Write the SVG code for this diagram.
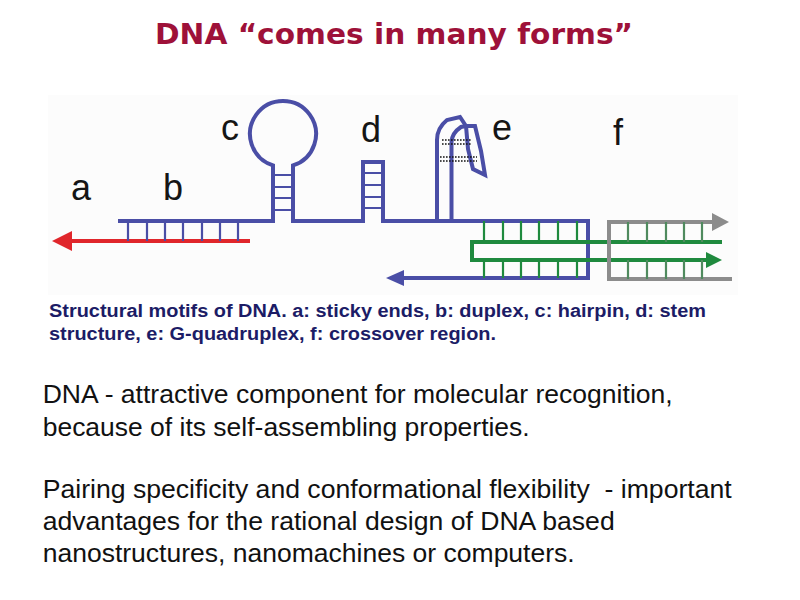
<svg xmlns="http://www.w3.org/2000/svg" width="800" height="600" viewBox="0 0 800 600">
<style>
.title{font-family:"DejaVu Sans","Liberation Sans",sans-serif;font-weight:bold;font-size:29px;fill:#9e1139}
.lbl{font-family:"Liberation Sans",Arial,sans-serif;font-size:36px;fill:#151515}
.cap{font-family:"Liberation Sans",Arial,sans-serif;font-weight:bold;font-size:18px;fill:#1c1c66}
.body{font-family:"Liberation Sans",Arial,sans-serif;font-size:25px;fill:#111}
.strand{fill:none;stroke-width:4;stroke-linejoin:miter;stroke-linecap:butt}
.blue{stroke:#4a4ea6}
.red{stroke:#e0262b}
.green{stroke:#1f8a3e}
.gray{stroke:#8c8c8c}
.rung{stroke-width:2.2;fill:none}
.dots{stroke:#111;stroke-width:1.6;stroke-dasharray:1.6 1.4;fill:none}
</style>
<defs>
<marker id="ah-red" markerUnits="userSpaceOnUse" markerWidth="22" markerHeight="22" refX="0" refY="10" orient="auto" viewBox="0 0 22 20"><path d="M0,0 L20,10 L0,20 z" fill="#e0262b"/></marker>
<marker id="ah-blue" markerUnits="userSpaceOnUse" markerWidth="20" markerHeight="18" refX="0" refY="8" orient="auto" viewBox="0 0 20 16"><path d="M0,0 L18,8 L0,16 z" fill="#4a4ea6"/></marker>
<marker id="ah-green" markerUnits="userSpaceOnUse" markerWidth="18" markerHeight="18" refX="0" refY="8" orient="auto" viewBox="0 0 18 16"><path d="M0,0 L16,8 L0,16 z" fill="#1f8a3e"/></marker>
<marker id="ah-gray" markerUnits="userSpaceOnUse" markerWidth="19" markerHeight="19" refX="0" refY="9" orient="auto" viewBox="0 0 19 18"><path d="M0,0 L17,9 L0,18 z" fill="#8c8c8c"/></marker>
</defs>
<rect width="800" height="600" fill="#ffffff"/>
<text class="title" x="155" y="44" textLength="478" lengthAdjust="spacingAndGlyphs">DNA “comes in many forms”</text>
<g id="diagram">
<rect x="48" y="95" width="690" height="200" fill="#fcfcfc"/>
<g id="connectors">
<path id="red-strand" class="strand red" d="M250,241 H72" marker-end="url(#ah-red)"/>
<path id="blue-strand" class="strand blue" d="M118,221 H273 V165.4 A33,33 0 1 1 293,165.4 V221 H363 V162 H383 V221 H588 V278 H404" marker-end="url(#ah-blue)"/>
<path id="green-strand" class="strand green" d="M722,242 H472 V260 H706" marker-end="url(#ah-green)"/>
<path id="gray-strand" class="strand gray" d="M732,279 H609 V222 H712" marker-end="url(#ah-gray)"/>
</g>
<g id="motif-b">
<path class="rung blue" d="M128,221V241M147,221V241M165,221V241M183,221V241M202,221V241M220,221V241M238,221V241"/>
</g>
<g id="motif-c">
<path class="rung blue" d="M273,175H293M273,187H293M273,198H293M273,210H293"/>
</g>
<g id="motif-d">
<path class="rung blue" d="M363,173H383M363,185H383M363,197H383M363,208H383"/>
</g>
<g id="motif-e">
<path class="strand blue" stroke-width="3.5" d="M437,221 V140 Q437,128 447,120 L460,117 L466,126"/>
<path class="strand blue" stroke-width="3.5" d="M451.5,221 V142 Q452,133 461,127 L466,126"/>
<path class="strand blue" stroke-width="3.5" stroke-linejoin="round" d="M466,126 L475,126 L481,151 L485,175 L473,169 L468,149 Z"/>
<path class="dots" d="M442,140H472M442,144H472M440,157H477M440,161H477"/>
</g>
<g id="motif-f">
<path class="rung green" d="M484,221V242M503,221V242M521,221V242M539,221V242M558,221V242M577,221V242M484,260V278M503,260V278M521,260V278M539,260V278M558,260V278M577,260V278"/>
<path class="rung" stroke="#4f8a5e" d="M628,222V242M647,222V242M666,222V242M684,222V242M702,222V242M628,260V279M647,260V279M666,260V279M684,260V279M702,260V279"/>
</g>
<g id="labels">
<text class="lbl" x="71" y="200">a</text>
<text class="lbl" x="163" y="200">b</text>
<text class="lbl" x="221" y="140">c</text>
<text class="lbl" x="361" y="142">d</text>
<text class="lbl" x="492" y="140">e</text>
<text class="lbl" x="613" y="145">f</text>
</g>
</g>
<g id="caption">
<text class="cap" x="49" y="317" textLength="657" lengthAdjust="spacingAndGlyphs">Structural motifs of DNA. a: sticky ends, b: duplex, c: hairpin, d: stem</text>
<text class="cap" x="49" y="340" textLength="447" lengthAdjust="spacingAndGlyphs">structure, e: G-quadruplex, f: crossover region.</text>
</g>
<g id="body-text">
<text class="body" x="42.7" y="403" textLength="630" lengthAdjust="spacingAndGlyphs">DNA - attractive component for molecular recognition,</text>
<text class="body" x="42.7" y="436" textLength="487" lengthAdjust="spacingAndGlyphs">because of its self-assembling properties.</text>
<text class="body" x="42.7" y="498" textLength="689" lengthAdjust="spacingAndGlyphs">Pairing specificity and conformational flexibility&#160; - important</text>
<text class="body" x="42.7" y="530" textLength="572" lengthAdjust="spacingAndGlyphs">advantages for the rational design of DNA based</text>
<text class="body" x="42.7" y="562" textLength="532" lengthAdjust="spacingAndGlyphs">nanostructures, nanomachines or computers.</text>
</g>
</svg>
